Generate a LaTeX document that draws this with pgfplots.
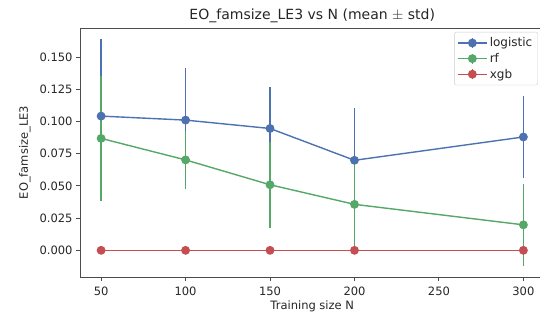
\documentclass[border=0pt]{standalone}
\usepackage{pgfplots}
\pgfplotsset{compat=1.18}
\usepackage{fontspec}
\setmainfont{DejaVu Sans}
\definecolor{cblue}{HTML}{4C72B0}
\definecolor{cgreen}{HTML}{55A868}
\definecolor{cred}{HTML}{C44E52}
\begin{document}
\begin{tikzpicture}
\begin{axis}[
  scale only axis,
  width=464.5pt, height=249pt,
  xmin=37.5, xmax=312.5,
  ymin=-0.0207, ymax=0.1726,
  xtick={50,100,150,200,250,300},
  ytick={0,0.025,0.05,0.075,0.1,0.125,0.15},
  yticklabel style={/pgf/number format/.cd, fixed, fixed zerofill, precision=3},
  xticklabel style={yshift=-2pt},
  /pgf/number format/assume math mode=true,
  tick label style={font=\fontsize{11.5}{13}\selectfont, text=black!85},
  label style={font=\fontsize{11.5}{13}\selectfont, text=black!85},
  title style={font=\fontsize{14}{16}\selectfont, text=black!85, yshift=-4pt},
  title={EO\_famsize\_LE3 vs N (mean $\pm$ std)},
  xlabel={Training size N},
  ylabel={EO\_famsize\_LE3},
  xlabel style={yshift=1pt},
  ylabel style={yshift=2pt},
  axis line style={black!70, line width=0.9pt},
  tick style={black!70, line width=0.9pt},
  tick align=outside,
  major tick length=4pt,
  xtick pos=bottom, ytick pos=left,
  legend style={at={(0.986,0.984)}, anchor=north east, draw=black!20, rounded corners=2pt,
    font=\fontsize{12}{14}\selectfont, text=black!85, row sep=0pt, inner sep=3pt,
    nodes={inner sep=2.5pt}},
  legend cell align=left,
  legend image code/.code={
    \draw[mark repeat=2,mark phase=2,#1] plot coordinates {(0cm,0cm) (0.5cm,0cm) (1.0cm,0cm)};
    \draw[#1,mark=none] (0.5cm,-5pt) -- (0.5cm,5pt);
  },
  every axis plot/.append style={line width=1.4pt, mark=*, mark size=3.7pt},
]
\addplot[color=cblue, mark options={fill=cblue, draw=cblue},
  error bars/.cd, y dir=both, y explicit, error mark=none,
  error bar style={line width=1.7pt, color=cblue}]
  coordinates {
  (50,0.1042) +- (0,0.0597)
  (100,0.1011) +- (0,0.0401)
  (150,0.0946) +- (0,0.0324)
  (200,0.0699) +- (0,0.0404)
  (300,0.0880) +- (0,0.0318)
};
\addlegendentry{logistic}
\addplot[color=cgreen, mark options={fill=cgreen, draw=cgreen},
  error bars/.cd, y dir=both, y explicit, error mark=none,
  error bar style={line width=1.7pt, color=cgreen}]
  coordinates {
  (50,0.0869) +- (0,0.0488)
  (100,0.0702) +- (0,0.0224)
  (150,0.0509) +- (0,0.0335)
  (200,0.0357) +- (0,0.0357)
  (300,0.0198) +- (0,0.0316)
};
\addlegendentry{rf}
\addplot[color=cred, mark options={fill=cred, draw=cred},
  error bars/.cd, y dir=both, y explicit, error mark=none,
  error bar style={line width=1.7pt, color=cred}]
  coordinates {
  (50,0) +- (0,0)
  (100,0) +- (0,0)
  (150,0) +- (0,0)
  (200,0) +- (0,0)
  (300,0) +- (0,0)
};
\addlegendentry{xgb}
\end{axis}
\pgfresetboundingbox
\path[use as bounding box] (current axis.south west) ++(-80pt,-43pt) rectangle ++(540pt,320pt);
\end{tikzpicture}
\end{document}
